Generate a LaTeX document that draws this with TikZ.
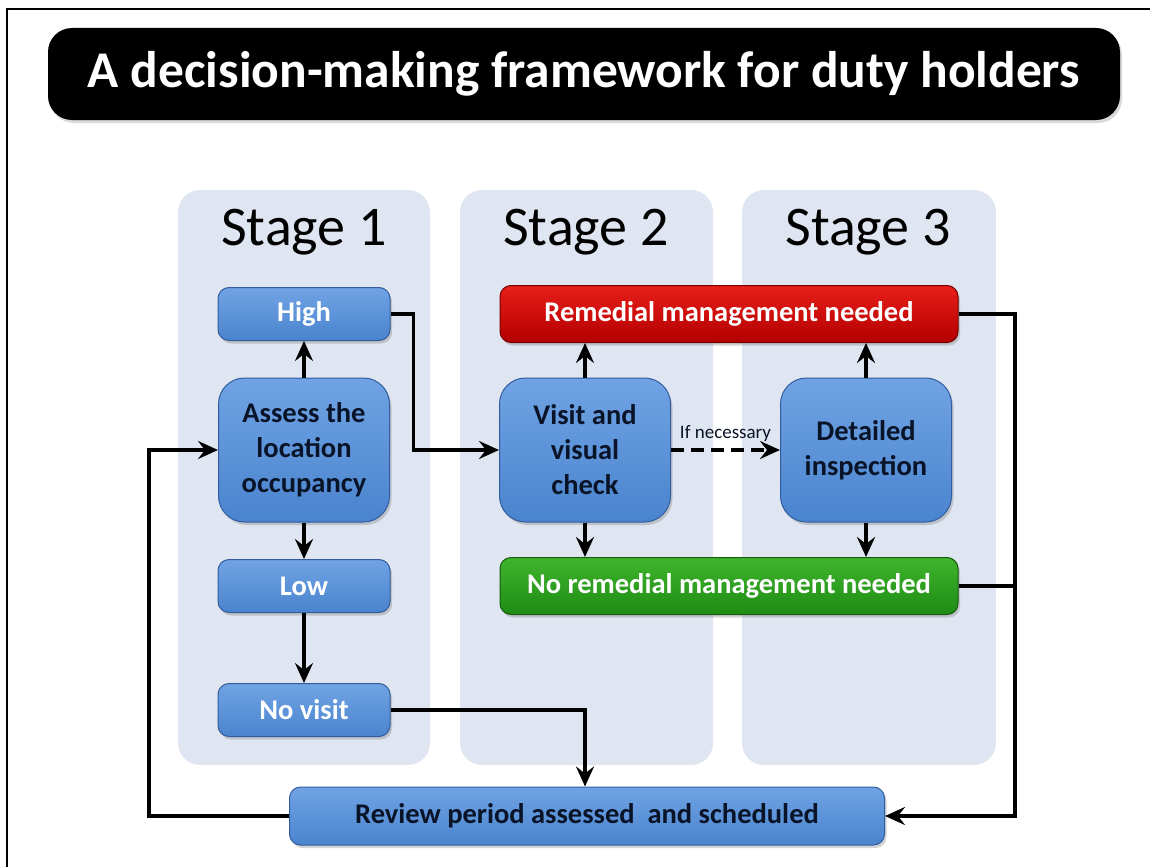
\documentclass[tikz,border=0pt]{standalone}
\usepackage{fontspec}
\setmainfont{Carlito}
\usetikzlibrary{arrows.meta,shadows}
\definecolor{panelgrey}{RGB}{223,230,241}
\definecolor{bluetop}{RGB}{112,163,228}
\definecolor{bluebot}{RGB}{74,132,206}
\definecolor{blueedge}{RGB}{50,92,158}
\definecolor{redtop}{RGB}{232,30,25}
\definecolor{redbot}{RGB}{178,0,0}
\definecolor{rededge}{RGB}{115,0,0}
\definecolor{greentop}{RGB}{64,180,45}
\definecolor{greenbot}{RGB}{30,140,20}
\definecolor{greenedge}{RGB}{20,90,15}
\definecolor{darktext}{RGB}{10,20,40}
\tikzset{
  boxbase/.style={rounded corners=11pt, line width=1pt, align=center,
    drop shadow={shadow xshift=2pt, shadow yshift=-3pt, opacity=.35},
    font=\fontsize{28.5}{35}\selectfont\bfseries},
  bluebox/.style={boxbase, draw=blueedge, top color=bluetop, bottom color=bluebot},
  redbox/.style={boxbase, draw=rededge, top color=redtop, bottom color=redbot, text=white},
  greenbox/.style={boxbase, draw=greenedge, top color=greentop, bottom color=greenbot, text=white},
  small/.style={minimum width=172pt, minimum height=53pt},
  big/.style={minimum width=171pt, minimum height=144pt, rounded corners=26pt, text=darktext},
  wide/.style={minimum width=458pt, minimum height=57pt},
  conn/.style={line width=3.5pt, -{Stealth[length=20pt,width=18pt,inset=7pt]}},
  plain/.style={line width=3.5pt}
}
\begin{document}
\begin{tikzpicture}[x=1pt,y=-1pt]
\useasboundingbox (0,0) rectangle (1150,867);
\draw[line width=2pt] (7,867) -- (7,9) -- (1150,9);

\node[fill=black, rounded corners=24pt, minimum width=1072pt, minimum height=92pt,
  text=white, font=\fontsize{51.5}{60}\selectfont\bfseries,
  drop shadow={shadow xshift=2pt, shadow yshift=-3pt, opacity=.3}] (title) at (584,74)
  {A decision-making framework for duty holders};

\fill[panelgrey, rounded corners=22pt] (178,190) rectangle (430,765);
\fill[panelgrey, rounded corners=22pt] (460,190) rectangle (713,765);
\fill[panelgrey, rounded corners=22pt] (742,190) rectangle (996,765);

\node[font=\fontsize{56}{60}\selectfont] (stage1) at (304,232) {Stage 1};
\node[font=\fontsize{56}{60}\selectfont] (stage2) at (586,232) {Stage 2};
\node[font=\fontsize{56}{60}\selectfont] (stage3) at (868,232) {Stage 3};

\node[bluebox, small, text=white] (high) at (304,314) {High};
\node[bluebox, big] (assess) at (304,450) {Assess the\\location\\occupancy};
\node[bluebox, small, text=white] (low) at (304,586) {Low};
\node[bluebox, small, text=white] (novisit) at (304,710) {No visit};

\node[redbox, wide] (remedial) at (729,314) {Remedial management needed};
\node[bluebox, big] (visit) at (585,450) {Visit and\\visual\\check};
\node[bluebox, big] (detailed) at (866,450) {Detailed\\inspection};
\node[greenbox, wide] (noremedial) at (729,586) {No remedial management needed};

\node[bluebox, minimum width=595pt, minimum height=58pt, text=darktext] (review) at (587,816)
  {Review period assessed\ \ and scheduled};

\coordinate (rail) at (1015,314);

\draw[conn] (assess) -- (high);
\draw[conn] (assess) -- (low);
\draw[conn] (low) -- (novisit);
\draw[conn] (high.east) -- ++(23,0) |- (visit.west);
\draw[conn] (visit) -- (remedial.south -| visit);
\draw[conn] (visit) -- (noremedial.north -| visit);
\draw[conn] (detailed) -- (remedial.south -| detailed);
\draw[conn] (detailed) -- (noremedial.north -| detailed);
\draw[conn, dash pattern=on 13pt off 7pt] (visit) -- node[above=3pt, font=\fontsize{19}{21}\selectfont, text=darktext] (ifnec) {If necessary} (detailed);
\draw[conn] (novisit.east) -| (review.north -| visit);
\draw[conn] (remedial.east) -- (rail) |- (review.east);
\draw[plain] (noremedial.east) -- (noremedial.east -| rail);
\draw[conn] (review.west) -- ++(-140,0) |- (assess.west);
\end{tikzpicture}
\end{document}
